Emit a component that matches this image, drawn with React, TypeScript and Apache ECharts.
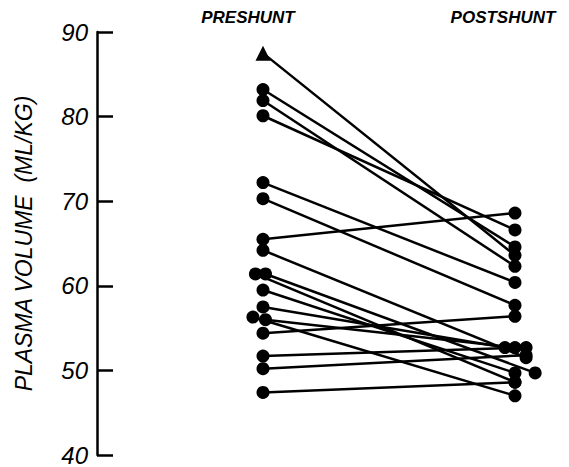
import React, { useEffect, useRef } from "react";
import * as echarts from "echarts";

// Plasma volume (ml/kg) per patient, before and after the shunt
const preValues = [87.5, 83.2, 81.9, 80.1, 72.2, 70.3, 65.5, 64.2, 61.4, 61.4, 59.5, 57.5, 56.3, 56.0, 54.4, 51.7, 50.2, 47.4];
const postValues = [63.6, 64.6, 62.3, 66.6, 60.4, 57.7, 68.6, 51.5, 48.6, 49.7, 49.7, 52.7, 47.0, 52.7, 56.4, 52.7, 51.8, 48.6];
// x position of each point in axis units (0 = preshunt, 1 = postshunt; small shifts where dots sit side by side)
const preX = [0, 0, 0, 0, 0, 0, 0, 0, -0.03, 0.01, 0, 0, -0.04, 0.01, 0, 0, 0, 0];
const postX = [1, 1, 1, 1, 1, 1, 1, 1.044, 1, 1.08, 1, 0.96, 1, 1, 1, 1.044, 1.044, 1];
// marker of each patient
const markers = ["triangle", "circle", "circle", "circle", "circle", "circle", "circle", "circle", "circle", "circle", "circle", "circle", "circle", "circle", "circle", "circle", "circle", "circle"];
const groupLabels = ["PRESHUNT", "POSTSHUNT"];
const yTicks = [40, 50, 60, 70, 80, 90];
const yName = "PLASMA VOLUME  (ML/KG)";

export default function App() {
  const ref = useRef<HTMLDivElement>(null);
  useEffect(() => {
    if (!ref.current) return;
    const chart = echarts.init(ref.current, null, { renderer: "svg" });
    const series = preValues.map((pre, i) => ({
      type: "line",
      silent: true,
      data: [
        { value: [preX[i], pre], symbol: markers[i], symbolSize: markers[i] === "triangle" ? 15 : 13 },
        { value: [postX[i], postValues[i]], symbol: "circle", symbolSize: 13 },
      ],
      lineStyle: { color: "#000", width: 2.5 },
      itemStyle: { color: "#000" },
      z: 3,
    }));
    chart.setOption({
      animation: false,
      backgroundColor: "#fff",
      grid: { left: 97, right: 3.6, top: 32, bottom: 7 },
      xAxis: { type: "value", min: -0.6587, max: 1.2, show: false },
      yAxis: {
        type: "value",
        min: yTicks[0],
        max: yTicks[yTicks.length - 1],
        interval: 10,
        name: yName,
        nameLocation: "middle",
        nameGap: 62,
        nameRotate: 90,
        nameTextStyle: { fontFamily: "Liberation Sans", fontStyle: "italic", fontSize: 23, color: "#000" },
        axisLine: { show: true, onZero: false, lineStyle: { color: "#000", width: 2.5 } },
        axisTick: { show: true, inside: true, length: 16, lineStyle: { color: "#000", width: 2.5 } },
        axisLabel: { color: "#000", fontFamily: "Liberation Sans", fontStyle: "italic", fontSize: 24, margin: 9 },
        splitLine: { show: false },
      },
      graphic: [
        {
          type: "text",
          x: 248,
          y: 17,
          style: { text: groupLabels[0], fill: "#000", font: "italic bold 17px 'Liberation Sans'", textAlign: "center", textVerticalAlign: "middle" },
        },
        {
          type: "text",
          x: 503,
          y: 17,
          style: { text: groupLabels[1], fill: "#000", font: "italic bold 17px 'Liberation Sans'", textAlign: "center", textVerticalAlign: "middle" },
        },
      ],
      series,
    });
    return () => chart.dispose();
  }, []);
  return <div ref={ref} style={{ position: "fixed", left: 0, top: 0, width: 569, height: 467 }} />;
}
